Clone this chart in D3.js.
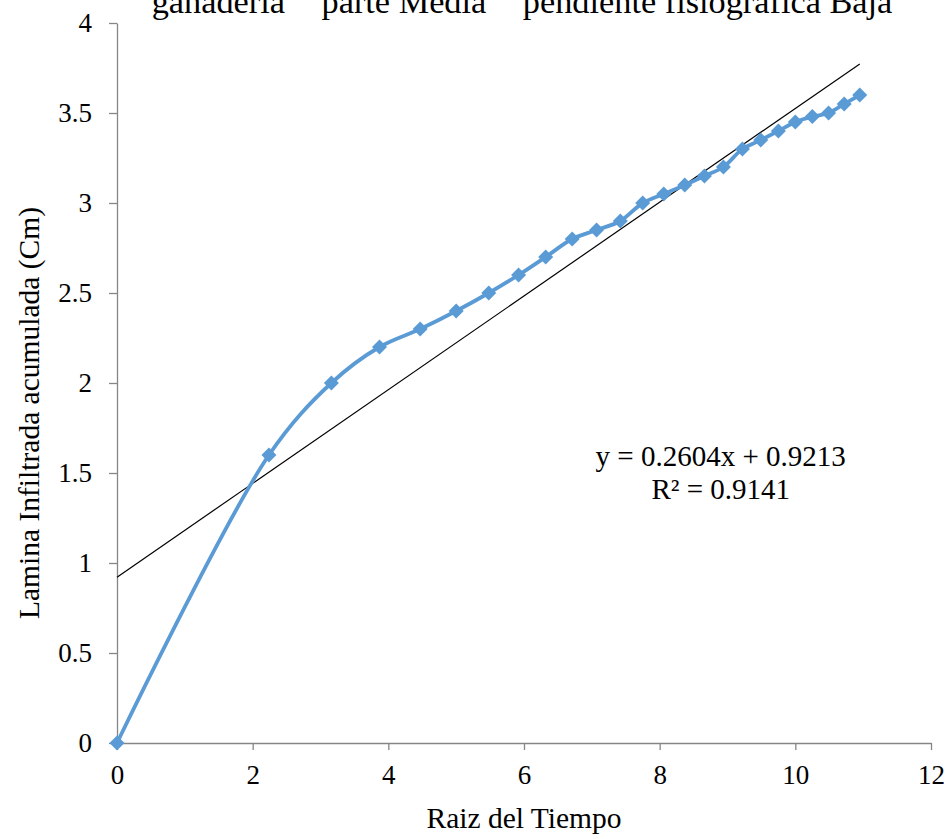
<!DOCTYPE html>
<html>
<head>
<meta charset="utf-8">
<script src="https://cdn.jsdelivr.net/npm/d3@7"></script>
<style>
  html, body { margin: 0; padding: 0; background: #fff; }
  svg text { font-family: "Liberation Serif", "Times New Roman", serif; fill: #000; }
</style>
</head>
<body>
<div id="chart"></div>
<script>
// raiz del tiempo (x) vs lamina infiltrada acumulada (y)
const raizTiempo = [0, 2.24, 3.16, 3.87, 4.47, 5.0, 5.48, 5.92, 6.32, 6.71, 7.07, 7.42, 7.75,
  8.06, 8.37, 8.66, 8.94, 9.22, 9.49, 9.75, 10.0, 10.25, 10.49, 10.72, 10.95];
const lamina = [0, 1.6, 2.0, 2.2, 2.3, 2.4, 2.5, 2.6, 2.7, 2.8, 2.85, 2.9, 3.0,
  3.05, 3.1, 3.15, 3.2, 3.3, 3.35, 3.4, 3.45, 3.48, 3.5, 3.55, 3.6];
const xTicks = [0, 2, 4, 6, 8, 10, 12];
const yTicks = [0, 0.5, 1, 1.5, 2, 2.5, 3, 3.5, 4];
const trendSlope = 0.2604;
const trendIntercept = 0.9213;
const eqLines = ['y = 0.2604x + 0.9213', 'R² = 0.9141'];
const title = 'ganaderia" "parte Media" "pendiente fisiografica Baja';

const width = 952, height = 839;
const margin = { top: 23, right: 21, bottom: 96, left: 117 };
const innerWidth = width - margin.left - margin.right;
const innerHeight = height - margin.top - margin.bottom;

const data = raizTiempo.map((x, i) => ({ x, y: lamina[i] }));

const x = d3.scaleLinear().domain([0, 12]).range([0, innerWidth]);
const y = d3.scaleLinear().domain([0, 4]).range([innerHeight, 0]);

const svg = d3.select('#chart').append('svg').attr('width', width).attr('height', height);
const g = svg.append('g').attr('transform', `translate(${margin.left},${margin.top})`);

svg.append('text')
  .attr('x', 522)
  .attr('y', 13)
  .attr('text-anchor', 'middle')
  .attr('font-size', 34.3)
  .text(title);

const axisColor = '#868686';

const xAxis = g.append('g')
  .attr('transform', `translate(0,${innerHeight})`)
  .call(d3.axisBottom(x).tickValues(xTicks).tickSize(7).tickSizeOuter(0).tickPadding(15).tickFormat(d3.format('d')));
const yAxis = g.append('g')
  .call(d3.axisLeft(y).tickValues(yTicks).tickSize(8).tickSizeOuter(0).tickPadding(17).tickFormat((d) => String(d)));

[xAxis, yAxis].forEach((ax) => {
  ax.attr('font-family', null).attr('font-size', null);
  ax.select('.domain').attr('stroke', axisColor).attr('stroke-width', 1.3);
  ax.selectAll('.tick line').attr('stroke', axisColor).attr('stroke-width', 1.3);
  ax.selectAll('.tick text')
    .style('font-family', '"Liberation Serif", "Times New Roman", serif')
    .style('font-size', '27px')
    .attr('fill', '#000');
});

// trend line
const xEnd = d3.max(raizTiempo);
g.append('line')
  .attr('x1', x(0))
  .attr('y1', y(trendIntercept))
  .attr('x2', x(xEnd))
  .attr('y2', y(trendSlope * xEnd + trendIntercept))
  .attr('stroke', '#000')
  .attr('stroke-width', 1.2);

const blue = '#5B9BD5';
const line = d3.line().x((d) => x(d.x)).y((d) => y(d.y)).curve(d3.curveCatmullRom.alpha(0.5));

g.append('path')
  .datum(data)
  .attr('fill', 'none')
  .attr('stroke', blue)
  .attr('stroke-width', 3.8)
  .attr('d', line);

g.selectAll('.pt')
  .data(data)
  .join('path')
  .attr('class', 'pt')
  .attr('transform', (d) => `translate(${x(d.x)},${y(d.y)})`)
  .attr('d', 'M0,-7.5L7.5,0L0,7.5L-7.5,0Z')
  .attr('fill', blue);

// equation label
const eq = g.append('text')
  .attr('text-anchor', 'middle')
  .attr('font-size', 29);
eq.selectAll('tspan')
  .data(eqLines)
  .join('tspan')
  .attr('x', x(8.90))
  .attr('y', (d, i) => y(1.54) + i * 33)
  .text((d) => d);

// axis titles
svg.append('text')
  .attr('x', 524)
  .attr('y', 828)
  .attr('text-anchor', 'middle')
  .attr('font-size', 29.5)
  .text('Raiz del Tiempo');

svg.append('text')
  .attr('transform', 'translate(39,413) rotate(-90)')
  .attr('text-anchor', 'middle')
  .attr('font-size', 29.5)
  .text('Lamina Infiltrada acumulada (Cm)');
</script>
</body>
</html>
